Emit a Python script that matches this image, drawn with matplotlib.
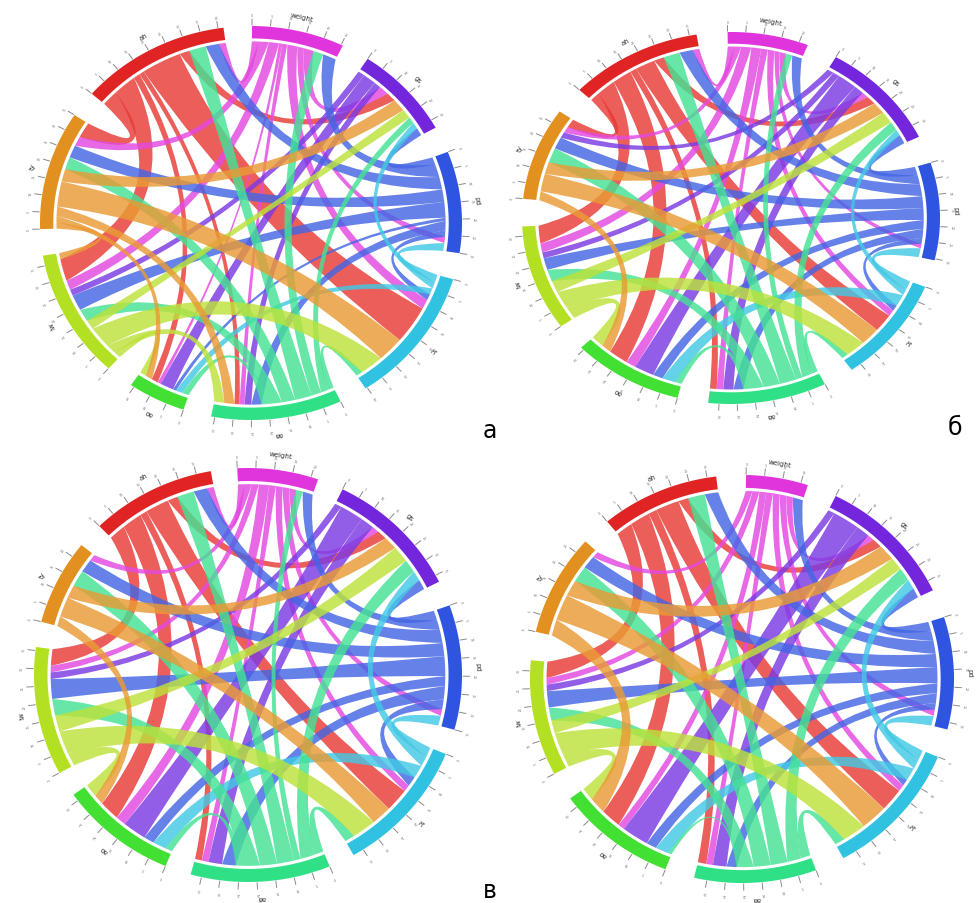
import numpy as np
import matplotlib.pyplot as plt
from matplotlib.path import Path
from matplotlib.patches import PathPatch, Polygon

# --------------------------------------
# 1. Data: sectors and links (width in degrees) for each panel
# --------------------------------------
sectors = ["ah", "weight", "gs", "pd", "tc", "aa", "ao", "lw", "ty"]
bar_colors = ["#e02424", "#e034dc", "#7426dc", "#2f55e0", "#30c2e0",
              "#30e086", "#42e032", "#b4e024", "#e2901f"]
link_colors = ["#e83a36", "#e448e0", "#7c3ae2", "#4466e4", "#42c8e4",
               "#44e294", "#52e244", "#bce23a", "#ea9a34"]

links_a = [
    ("ah", "lw", 7), ("ah", "tc", 12), ("ah", "ty", 5), ("ah", "gs", 3), ("ah", "ao", 2), ("ah", "aa", 1.5),
    ("weight", "ah", 2), ("weight", "ty", 3), ("weight", "lw", 3), ("weight", "tc", 3), ("weight", "ao", 1),
    ("weight", "gs", 3), ("weight", "aa", 1.5), ("weight", "pd", 2),
    ("gs", "ao", 4), ("gs", "aa", 2), ("gs", "lw", 2),
    ("pd", "ah", 4), ("pd", "weight", 4), ("pd", "gs", 2.5), ("pd", "ty", 4), ("pd", "lw", 5),
    ("pd", "aa", 3), ("pd", "tc", 2), ("pd", "ao", 1),
    ("tc", "pd", 2.5), ("tc", "ao", 2), ("tc", "gs", 2),
    ("aa", "ah", 5), ("aa", "weight", 3), ("aa", "ty", 4), ("aa", "lw", 4), ("aa", "gs", 2), ("aa", "tc", 2), ("aa", "ao", 2),
    ("lw", "tc", 7), ("lw", "gs", 3), ("lw", "aa", 3), ("lw", "ao", 2),
    ("ty", "tc", 8), ("ty", "gs", 4), ("ty", "lw", 2), ("ty", "aa", 3), ("ty", "ao", 2),
]

links_b = [
    ("ah", "lw", 6), ("ah", "ao", 6), ("ah", "tc", 6), ("ah", "gs", 3), ("ah", "aa", 2), ("ah", "ty", 3),
    ("weight", "ah", 2), ("weight", "ty", 2), ("weight", "lw", 3), ("weight", "ao", 3), ("weight", "aa", 2),
    ("weight", "tc", 2), ("weight", "gs", 2), ("weight", "pd", 1.5),
    ("gs", "ao", 6), ("gs", "aa", 3), ("gs", "lw", 2), ("gs", "ty", 2),
    ("pd", "ah", 4), ("pd", "weight", 3), ("pd", "gs", 3), ("pd", "ty", 4), ("pd", "lw", 4),
    ("pd", "ao", 3), ("pd", "aa", 3), ("pd", "tc", 2),
    ("tc", "pd", 3), ("tc", "ao", 4), ("tc", "gs", 2),
    ("aa", "ah", 5), ("aa", "weight", 2), ("aa", "ty", 5), ("aa", "lw", 4), ("aa", "gs", 3), ("aa", "tc", 2), ("aa", "ao", 2),
    ("lw", "tc", 6), ("lw", "gs", 4), ("lw", "ao", 4),
    ("ty", "tc", 6), ("ty", "gs", 4), ("ty", "ao", 3),
]

links_c = [
    ("ah", "lw", 5), ("ah", "ao", 6), ("ah", "tc", 7), ("ah", "gs", 3), ("ah", "aa", 2),
    ("weight", "ah", 2), ("weight", "ty", 2), ("weight", "lw", 2), ("weight", "ao", 3), ("weight", "aa", 2),
    ("weight", "tc", 2), ("weight", "gs", 2), ("weight", "pd", 2),
    ("gs", "ao", 7), ("gs", "aa", 4), ("gs", "lw", 2),
    ("pd", "ah", 4), ("pd", "weight", 3), ("pd", "gs", 3), ("pd", "ty", 4), ("pd", "lw", 6),
    ("pd", "ao", 3), ("pd", "aa", 4), ("pd", "tc", 3),
    ("tc", "pd", 3), ("tc", "ao", 4), ("tc", "gs", 3),
    ("aa", "ah", 5), ("aa", "weight", 2), ("aa", "ty", 5), ("aa", "lw", 5), ("aa", "gs", 4), ("aa", "tc", 3), ("aa", "ao", 2),
    ("lw", "tc", 7), ("lw", "gs", 5), ("lw", "ao", 4),
    ("ty", "tc", 6), ("ty", "gs", 4), ("ty", "ao", 3),
]

links_d = [
    ("ah", "lw", 5), ("ah", "ao", 6), ("ah", "tc", 7), ("ah", "gs", 3), ("ah", "aa", 2.5),
    ("weight", "ty", 2), ("weight", "lw", 2), ("weight", "ao", 2), ("weight", "aa", 2),
    ("weight", "tc", 2), ("weight", "gs", 2), ("weight", "pd", 2),
    ("gs", "ao", 8), ("gs", "aa", 4), ("gs", "lw", 2),
    ("pd", "ah", 4), ("pd", "weight", 3), ("pd", "gs", 3), ("pd", "ty", 4), ("pd", "lw", 5),
    ("pd", "ao", 3), ("pd", "aa", 3), ("pd", "tc", 2),
    ("tc", "pd", 3), ("tc", "ao", 4), ("tc", "gs", 3),
    ("aa", "ah", 5), ("aa", "ty", 5), ("aa", "lw", 4), ("aa", "gs", 4), ("aa", "tc", 3), ("aa", "ao", 1),
    ("lw", "tc", 7), ("lw", "gs", 4), ("lw", "ao", 4),
    ("ty", "tc", 8), ("ty", "gs", 5), ("ty", "ao", 5),
]

panel_links = [links_a, links_b, links_c, links_d]
panel_letters = ["а", "б", "в"]

# --------------------------------------
# 2. Layout (pixels, y measured from the top)
# --------------------------------------
W, H = 978, 904
centers = [(251, 224), (731, 219), (248, 676), (742, 680)]
radii = [(211, 197), (209, 186), (214, 207), (212, 204)]
start_angles = [139, 136.5, 134, 129.5]
letter_pos = [(490, 431), (955, 428), (490, 891)]

R_BAR_IN, R_BAR_OUT, R_LINK = 0.937, 1.0, 0.922


def unit(t):
    t = np.radians(t)
    return np.array([np.cos(t), np.sin(t)])


def arc_pts(t1, t2, r, n=40):
    t = np.radians(np.linspace(t1, t2, n))
    return np.column_stack([r * np.cos(t), r * np.sin(t)])


def ctrl_point(t1, t2, r):
    diff = (t2 - t1 + 180) % 360 - 180
    mid = t1 + diff / 2
    k = max(0.0, 0.6 * (1 - abs(diff) / 150))
    return k * r * unit(mid)


def draw_chord(ax, cx, cy, rx, ry, links, start):
    idx = {s: i for i, s in enumerate(sectors)}
    n = len(sectors)
    size = np.zeros(n)
    for a, b, w in links:
        size[idx[a]] += w
        size[idx[b]] += w
    gap = (360 - size.sum()) / n
    s_start = np.zeros(n)
    s_start[0] = start
    for i in range(1, n):
        s_start[i] = s_start[i - 1] - size[i - 1] - gap

    def to_xy(p):
        p = np.atleast_2d(p)
        return np.column_stack([cx + rx * p[:, 0], (H - cy) + ry * p[:, 1]])

    # position of each link end inside its sector
    ends = {}
    for i in range(n):
        out_l = [(k, (idx[b] - i) % n) for k, (a, b, w) in enumerate(links) if idx[a] == i]
        in_l = [(k, (idx[a] - i) % n) for k, (a, b, w) in enumerate(links) if idx[b] == i]
        pos = s_start[i]
        for group, role in ((out_l, "out"), (in_l, "in")):
            for k, _ in sorted(group, key=lambda x: -x[1]):
                w = links[k][2]
                ends[(k, role)] = (pos, pos - w)
                pos -= w

    # links
    for k, (a, b, w) in enumerate(links):
        a1, a2 = ends[(k, "out")]
        b1, b2 = ends[(k, "in")]
        verts = list(arc_pts(a1, a2, R_LINK))
        codes = [Path.MOVETO] + [Path.LINETO] * (len(verts) - 1)
        verts += [ctrl_point(a2, b1, R_LINK), R_LINK * unit(b1)]
        codes += [Path.CURVE3, Path.CURVE3]
        p = list(arc_pts(b1, b2, R_LINK)[1:])
        verts += p
        codes += [Path.LINETO] * len(p)
        verts += [ctrl_point(b2, a1, R_LINK), R_LINK * unit(a1), R_LINK * unit(a1)]
        codes += [Path.CURVE3, Path.CURVE3, Path.CLOSEPOLY]
        path = Path(to_xy(np.array(verts)), codes)
        ax.add_patch(PathPatch(path, facecolor=link_colors[idx[a]], edgecolor="none",
                               alpha=0.82, zorder=2))

    # sector bars, ticks and names
    for i, name in enumerate(sectors):
        t0, t1 = s_start[i], s_start[i] - size[i]
        ring = np.vstack([arc_pts(t0, t1, R_BAR_OUT), arc_pts(t1, t0, R_BAR_IN)])
        ax.add_patch(Polygon(to_xy(ring), closed=True, facecolor=bar_colors[i],
                             edgecolor="none", zorder=3))
        for v in np.arange(0, size[i] + 0.01, 5):
            t = t0 - v
            seg = to_xy(np.array([1.005 * unit(t), 1.035 * unit(t)]))
            ax.plot(seg[:, 0], seg[:, 1], color="#8a8a8a", lw=0.7, zorder=3)
            lp = to_xy(1.055 * unit(t))[0]
            ax.text(lp[0], lp[1], str(int(v)), fontsize=2.2, color="#666666",
                    rotation=t - 90, ha="center", va="center", zorder=3)
        tm = (t0 + t1) / 2
        lp = to_xy(1.075 * unit(tm))[0]
        ax.text(lp[0], lp[1], name, fontsize=5, color="#333333",
                rotation=tm - 90, ha="center", va="center", zorder=4)


# --------------------------------------
# 3. Plot the four chord diagrams
# --------------------------------------
fig = plt.figure(figsize=(W / 100, H / 100), dpi=100)
ax = fig.add_axes([0, 0, 1, 1])
ax.set_xlim(0, W)
ax.set_ylim(0, H)
ax.axis("off")

for links, (cx, cy), (rx, ry), st in zip(panel_links, centers, radii, start_angles):
    draw_chord(ax, cx, cy, rx, ry, links, st)

for letter, (x, y) in zip(panel_letters, letter_pos):
    ax.text(x, H - y, letter, fontsize=17, color="black", ha="center", va="center")

fig.savefig("out.png", dpi=100, facecolor="white")
